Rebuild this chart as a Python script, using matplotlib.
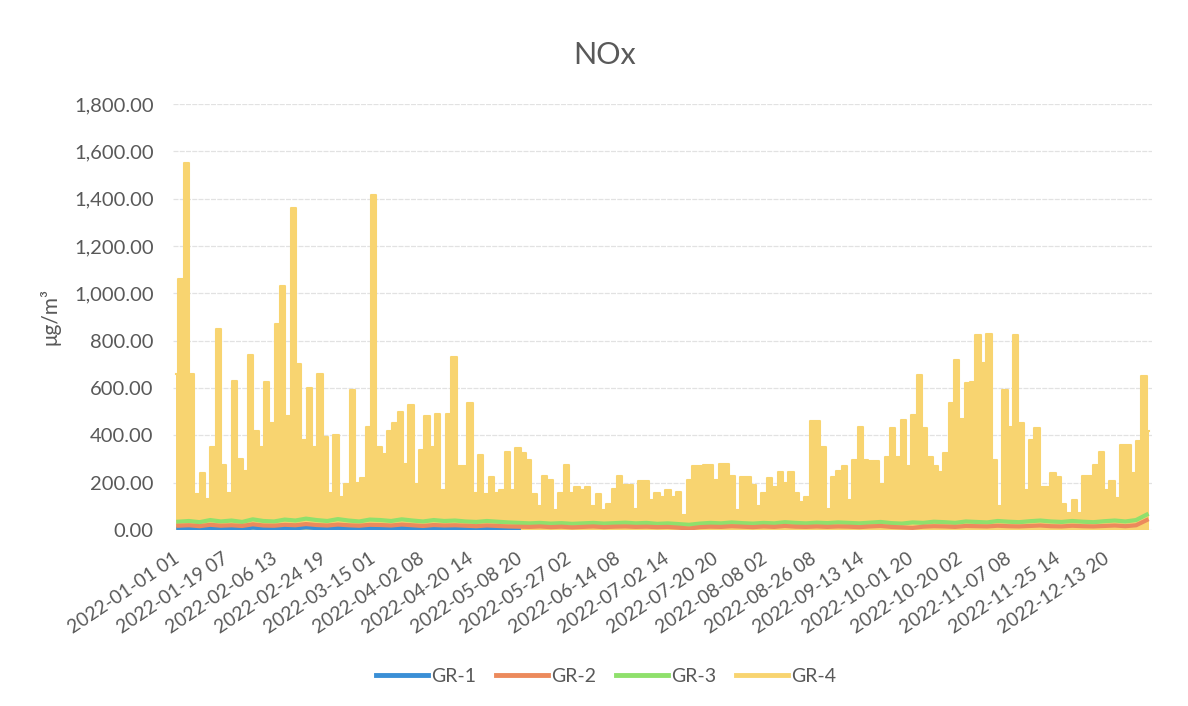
import numpy as np
import matplotlib.pyplot as plt
from matplotlib.ticker import FuncFormatter

plt.rcParams['font.family'] = ['Lato', 'DejaVu Sans']

# hourly category axis, one label every 438 rows
n_hours = 8760
tick_step = 438
tick_labels = [
    "2022-01-01 01", "2022-01-19 07", "2022-02-06 13", "2022-02-24 19",
    "2022-03-15 01", "2022-04-02 08", "2022-04-20 14", "2022-05-08 20",
    "2022-05-27 02", "2022-06-14 08", "2022-07-02 14", "2022-07-20 20",
    "2022-08-08 02", "2022-08-26 08", "2022-09-13 14", "2022-10-01 20",
    "2022-10-20 02", "2022-11-07 08", "2022-11-25 14", "2022-12-13 20",
]

# GR-4: peak value in each 2-day window
gr4 = [
    660, 1060, 1550, 660, 150, 240, 130, 350, 850, 275,
    155, 630, 300, 250, 740, 420, 350, 625, 450, 870,
    1030, 480, 1360, 700, 380, 600, 350, 660, 395, 155,
    400, 140, 195, 590, 200, 220, 435, 1415, 350, 320,
    420, 450, 500, 280, 530, 195, 340, 480, 350, 490,
    170, 490, 730, 270, 270, 535, 155, 315, 150, 225,
    155, 170, 330, 170, 345, 325, 295, 150, 100, 230,
    210, 85, 155, 275, 155, 180, 170, 180, 100, 150,
    85, 110, 175, 230, 190, 190, 90, 205, 205, 125,
    155, 140, 170, 140, 160, 65, 210, 270, 270, 275,
    275, 210, 280, 280, 230, 85, 225, 225, 190, 100,
    155, 220, 180, 245, 200, 245, 155, 120, 140, 460,
    460, 350, 90, 225, 250, 270, 125, 295, 435, 295,
    290, 290, 195, 310, 430, 310, 465, 270, 485, 655,
    430, 310, 270, 245, 325, 535, 720, 470, 620, 625,
    825, 705, 830, 295, 100, 590, 435, 825, 450, 170,
    380, 430, 180, 180, 240, 225, 110, 70, 125, 70,
    230, 230, 275, 330, 170, 205, 135, 360, 360, 240,
    375, 650, 420,
]

# GR-1..GR-3: level in each 4-day window
gr1 = [
    6, 8, 5, 9, 6, 8, 5, 10, 7, 6, 9, 7, 11, 8, 6, 9, 7, 5, 8, 7,
    6, 9, 7, 5, 8, 6, 7, 5, 4, 6, 5, 4, 6,
]
gr2 = [
    18, 20, 16, 22, 18, 20, 17, 24, 19, 18, 22, 20, 25, 21, 19, 23, 20, 18, 22, 21,
    19, 23, 20, 17, 21, 19, 20, 18, 16, 19,
    17, 15, 14, 13, 15, 12, 14, 11, 13, 15, 12, 14, 15, 13, 14,
    12, 13, 10, 6, 12, 14, 13, 16, 14, 12, 15, 13, 17, 14, 13, 15,
    13, 15, 14, 12, 15, 17, 13, 11, 9, 14, 16, 15, 13, 17, 16, 15,
    18, 16, 15, 17, 19, 16, 15, 18, 16, 15, 17, 19, 16, 20, 42,
]
gr3 = [
    35, 38, 33, 42, 36, 40, 34, 45, 38, 36, 44, 40, 48, 42, 38, 46, 40, 36, 44, 42,
    38, 45, 40, 36, 42, 38, 40, 36, 34, 38,
    35, 32, 30, 28, 30, 27, 29, 26, 28, 30, 27, 29, 31, 28, 30,
    26, 28, 25, 22, 27, 30, 28, 32, 29, 27, 30, 28, 33, 30, 28, 31,
    29, 32, 30, 28, 31, 34, 29, 27, 32, 30, 35, 33, 30, 36, 34, 32,
    38, 35, 33, 37, 40, 36, 34, 38, 35, 33, 37, 40, 36, 42, 65,
]

c_blue = "#3a8fd6"
c_orange = "#ec8a5c"
c_green = "#8fe06c"
c_yellow = "#f8d470"
txt = "#595959"


def centers(values, width):
    return (np.arange(len(values)) + 0.5) * width


fig = plt.figure(figsize=(11.88, 7.06), dpi=100)
ax = fig.add_axes([0.1456, 0.2493, 0.8241, 0.6034])

x4 = centers(gr4, n_hours / len(gr4))
ax.fill_between(x4, 0, gr4, step="mid", color=c_yellow, lw=0, zorder=2)
ax.plot(x4, gr4, drawstyle="steps-mid", color=c_yellow, lw=1.5, zorder=2)

w = n_hours / len(gr2)
ax.plot(centers(gr1, w), gr1, color=c_blue, lw=3, zorder=3)
ax.plot(centers(gr2, w), gr2, color=c_orange, lw=3, zorder=4)
ax.plot(centers(gr3, w), gr3, color=c_green, lw=3, zorder=3)

ax.set_xlim(0, n_hours)
ax.set_ylim(0, 1800)
ax.set_yticks(np.arange(0, 1801, 200))
ax.yaxis.set_major_formatter(FuncFormatter(lambda v, p: f"{v:,.2f}"))
ax.set_xticks(np.arange(len(tick_labels)) * tick_step)
ax.set_xticklabels(tick_labels, rotation=34, ha="right", rotation_mode="anchor")
ax.tick_params(axis="both", length=0, labelsize=14.5, colors=txt)
ax.tick_params(axis="x", labelsize=13.8, pad=14)
ax.tick_params(axis="y", pad=14)

ax.grid(axis="y", color="#e2e2e2", lw=0.9, linestyle=(0, (4, 1)))
ax.set_axisbelow(True)
for s in ax.spines.values():
    s.set_visible(False)

ax.set_ylabel("μg/m³", fontsize=15, color=txt)
ax.yaxis.set_label_coords(-0.115, 0.5)

fig.text(0.509, 0.922, "NOx", ha="center", va="center", fontsize=22, color=txt)

handles = [plt.Line2D([], [], color=c, lw=3.5) for c in (c_blue, c_orange, c_green, c_yellow)]
fig.legend(handles, ["GR-1", "GR-2", "GR-3", "GR-4"], loc="center",
           bbox_to_anchor=(0.51, 0.042), ncol=4, frameon=False,
           fontsize=14, labelcolor=txt, handlelength=2.7, columnspacing=1.0,
           handletextpad=0.15)

fig.savefig("out.png", dpi=100, facecolor="white")
